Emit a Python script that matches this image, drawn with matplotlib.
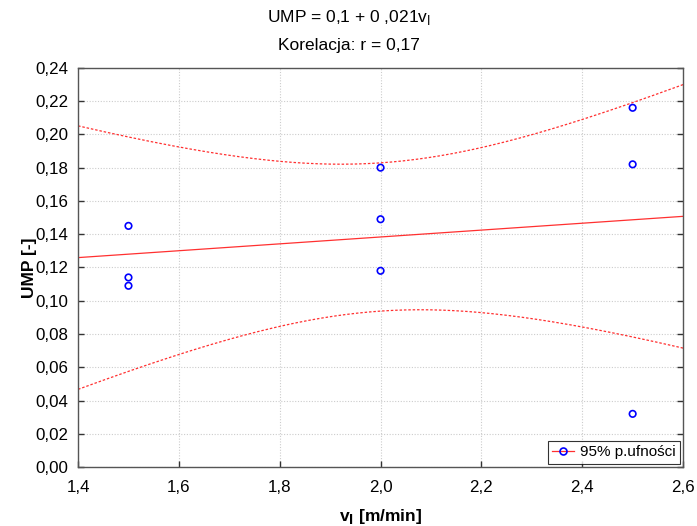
import numpy as np
import matplotlib
matplotlib.use("Agg")
import matplotlib.pyplot as plt
from matplotlib.lines import Line2D
from matplotlib.ticker import FuncFormatter

plt.rcParams['font.family'] = ['Liberation Sans', 'DejaVu Sans']

# Measurements: cutting speed v_l [m/min] and UMP [-]
v_l = [1.5, 1.5, 1.5, 2.0, 2.0, 2.0, 2.5, 2.5, 2.5]
ump = [0.145, 0.114, 0.109, 0.180, 0.149, 0.118, 0.216, 0.182, 0.032]

x_ticks = [1.4, 1.6, 1.8, 2.0, 2.2, 2.4, 2.6]
y_ticks = [0.00, 0.02, 0.04, 0.06, 0.08, 0.10, 0.12, 0.14, 0.16, 0.18, 0.20, 0.22, 0.24]

x = np.array(v_l)
y = np.array(ump)
n = len(x)

# Least-squares fit and 95% confidence band for the mean
slope, intercept = np.polyfit(x, y, 1)
resid = y - (intercept + slope * x)
s = np.sqrt(np.sum(resid ** 2) / (n - 2))
sxx = np.sum((x - x.mean()) ** 2)
t_crit = 2.3646  # t(0.975, df=7)

xs = np.linspace(x_ticks[0], x_ticks[-1], 200)
fit = intercept + slope * xs
half = t_crit * s * np.sqrt(1.0 / n + (xs - x.mean()) ** 2 / sxx)

fig = plt.figure(figsize=(6.97, 5.26), dpi=100)
ax = fig.add_axes([0.112, 0.112, 0.868, 0.759])

ax.plot(xs, fit, color='#ff3030', lw=0.9)
ax.plot(xs, fit + half, color='#ff3030', lw=0.9, ls=(0, (2, 1.5)))
ax.plot(xs, fit - half, color='#ff3030', lw=0.9, ls=(0, (2, 1.5)))
ax.scatter(x, y, s=22, facecolors='none', edgecolors='#0000ff', linewidths=1.2, zorder=3)

ax.set_xlim(x_ticks[0], x_ticks[-1])
ax.set_ylim(y_ticks[0], y_ticks[-1])
ax.set_xticks(x_ticks)
ax.set_yticks(y_ticks)
ax.xaxis.set_major_formatter(FuncFormatter(lambda v, p: f"{v:.1f}".replace('.', ',')))
ax.yaxis.set_major_formatter(FuncFormatter(lambda v, p: f"{v:.2f}".replace('.', ',')))
ax.tick_params(direction='in', length=4, width=1, labelsize=12.2, top=False, right=True,
               colors='#333333', labelcolor='black')
ax.tick_params(axis='x', pad=9)
ax.tick_params(axis='y', pad=7)
ax.grid(True, color='#cccccc', ls=(0, (1, 1.5)), lw=0.8)
ax.set_axisbelow(True)
for sp in ax.spines.values():
    sp.set_color('#555555')
    sp.set_linewidth(1.0)

ax.set_xlabel(r'v$_\mathbf{l}$ [m/min]', fontsize=12.5, fontweight='bold', labelpad=9)
ax.set_ylabel('UMP [-]', fontsize=12.5, fontweight='bold', labelpad=-1)

fig.text(0.5, 0.967, r'UMP = 0,1 + 0 ,021v$_\mathrm{l}$', ha='center', va='center', fontsize=12.5)
fig.text(0.5, 0.914, 'Korelacja: r = 0,17', ha='center', va='center', fontsize=12.5)

handle = Line2D([], [], color='#ff3030', lw=0.9, marker='o', markersize=5,
                markerfacecolor='none', markeredgecolor='#0000ff', markeredgewidth=1.2)
leg = ax.legend([handle], ['95% p.ufności'], loc='lower right', fontsize=11,
                frameon=True, fancybox=False, borderpad=0.3, handlelength=1.4,
                handletextpad=0.4, borderaxespad=0.2)
leg.get_frame().set_edgecolor('black')
leg.get_frame().set_linewidth(0.8)

fig.savefig('out.png', dpi=100)
